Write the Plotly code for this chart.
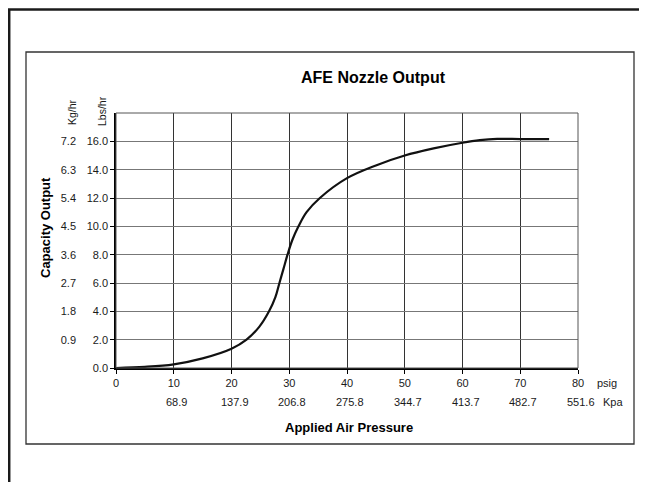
import plotly.graph_objects as go

# ---- data ----
pressure_psig = [0, 5, 10, 15, 20, 22.6, 24.8, 26.5, 27.6, 28.3, 29.0, 29.7, 30.5,
                 31.6, 33.0, 35.3, 40, 45, 50, 55, 60, 63, 66, 70, 75]
capacity_lbs = [0, 0.08, 0.26, 0.68, 1.36, 2.0, 2.9, 4.0, 5.0, 6.0, 7.0, 8.0, 9.0,
                10.0, 11.0, 12.0, 13.4, 14.3, 15.0, 15.5, 15.9, 16.08, 16.17, 16.16, 16.15]

psig_ticks = [0, 10, 20, 30, 40, 50, 60, 70, 80]
kpa_labels = ["68.9", "137.9", "206.8", "275.8", "344.7", "413.7", "482.7", "551.6"]
kpa_positions = [10, 20, 30, 40, 50, 60, 70, 80]
lbs_ticks = [0, 2, 4, 6, 8, 10, 12, 14, 16]
lbs_labels = ["0.0", "2.0", "4.0", "6.0", "8.0", "10.0", "12.0", "14.0", "16.0"]
kg_ticks = [2, 4, 6, 8, 10, 12, 14, 16]
kg_labels = ["0.9", "1.8", "2.7", "3.6", "4.5", "5.4", "6.3", "7.2"]

# ---- layout geometry (page pixels; page body has an 8px margin) ----
OFF = 8
W, H = 647, 482
L, R, T, B = 116, 578, 113, 368
PW, PH = R - L, B - T


def px(x):
    return (x - L) / PW


def py(y):
    return (B - y) / PH


FONT = "Liberation Sans, Arial, sans-serif"
TXT = "#1a1a1a"

fig = go.Figure()
fig.add_trace(go.Scatter(
    x=pressure_psig, y=capacity_lbs, mode="lines",
    line=dict(color="#111111", width=2.2, shape="spline", smoothing=1.0),
    hoverinfo="skip", showlegend=False,
))
# invisible trace for second (Kg/hr) axis
fig.add_trace(go.Scatter(x=[0], y=[0], yaxis="y2", mode="markers",
                         marker=dict(opacity=0), showlegend=False, hoverinfo="skip"))

fig.update_layout(
    width=W - OFF, height=H - OFF,
    margin=dict(l=L - OFF, r=W - R, t=T - OFF, b=H - B, pad=0, autoexpand=False),
    paper_bgcolor="white", plot_bgcolor="white",
    font=dict(family=FONT, size=11, color=TXT),
    showlegend=False,
    xaxis=dict(
        range=[0, 80], tickvals=psig_ticks, ticktext=[str(v) for v in psig_ticks],
        showgrid=True, gridcolor="#333333", gridwidth=1,
        showline=True, linecolor="#000000", linewidth=1.5,
        ticks="outside", ticklen=4, tickcolor="#000000", tickwidth=1,
        zeroline=False, fixedrange=True, automargin=False,
        tickfont=dict(size=11, color=TXT),
    ),
    yaxis=dict(
        range=[0, 18], tickvals=lbs_ticks, ticktext=lbs_labels,
        showgrid=True, gridcolor="#777777", gridwidth=1,
        showline=True, linecolor="#000000", linewidth=1.5,
        ticks="outside", ticklen=4, tickcolor="#000000", tickwidth=1,
        zeroline=False, fixedrange=True, automargin=False,
        tickfont=dict(size=11, color=TXT),
    ),
    yaxis2=dict(
        range=[0, 18], overlaying="y", side="left", anchor="x",
        tickvals=kg_ticks, ticktext=kg_labels,
        showgrid=False, showline=False, ticks="", zeroline=False,
        ticklabelstandoff=39, fixedrange=True, automargin=False,
        tickfont=dict(size=11, color=TXT),
    ),
)

shapes = []
# plot border (top/right gray)
shapes.append(dict(type="rect", xref="paper", yref="paper", x0=0, x1=1, y0=0, y1=1,
                   line=dict(color="#555555", width=1), layer="above"))
# inner frame
shapes.append(dict(type="rect", xref="paper", yref="paper",
                   x0=px(26), x1=px(634), y0=py(444), y1=py(52),
                   line=dict(color="#333333", width=1.3)))
# outer frame (cut by the page)
shapes.append(dict(type="line", xref="paper", yref="paper",
                   x0=px(9.2), x1=px(9.2), y0=py(9.5), y1=py(490),
                   line=dict(color="#1a1a1a", width=2.5)))
shapes.append(dict(type="line", xref="paper", yref="paper",
                   x0=px(8), x1=px(660), y0=py(9.5), y1=py(9.5),
                   line=dict(color="#1a1a1a", width=2.5)))
fig.update_layout(shapes=shapes)


def note(text, x, y, size=11, color=TXT, angle=0, xref="paper", xshift=0):
    return dict(text=text, xref=xref, yref="paper", x=x, y=y, xshift=xshift,
                xanchor="center", yanchor="middle", textangle=angle,
                showarrow=False, font=dict(size=size, color=color))


ann = [
    note("<b>AFE Nozzle Output</b>", px(373), py(77), size=16, color="#000"),
    note("<b>Capacity Output</b>", px(45), py(228), size=13, color="#000", angle=-90),
    note("<b>Applied Air Pressure</b>", px(349), py(427), size=13, color="#000"),
    note("Kg/hr", px(72), py(112), size=10.5, angle=-90),
    note("Lbs/hr", px(102), py(111), size=10.5, angle=-90),
    note("psig", px(607), py(383)),
    note("Kpa", px(613), py(402)),
]
for xv, lab in zip(kpa_positions, kpa_labels):
    ann.append(note(lab, xv, py(402), xref="x", xshift=3))
fig.update_layout(annotations=ann)

fig.write_html("out.html")
